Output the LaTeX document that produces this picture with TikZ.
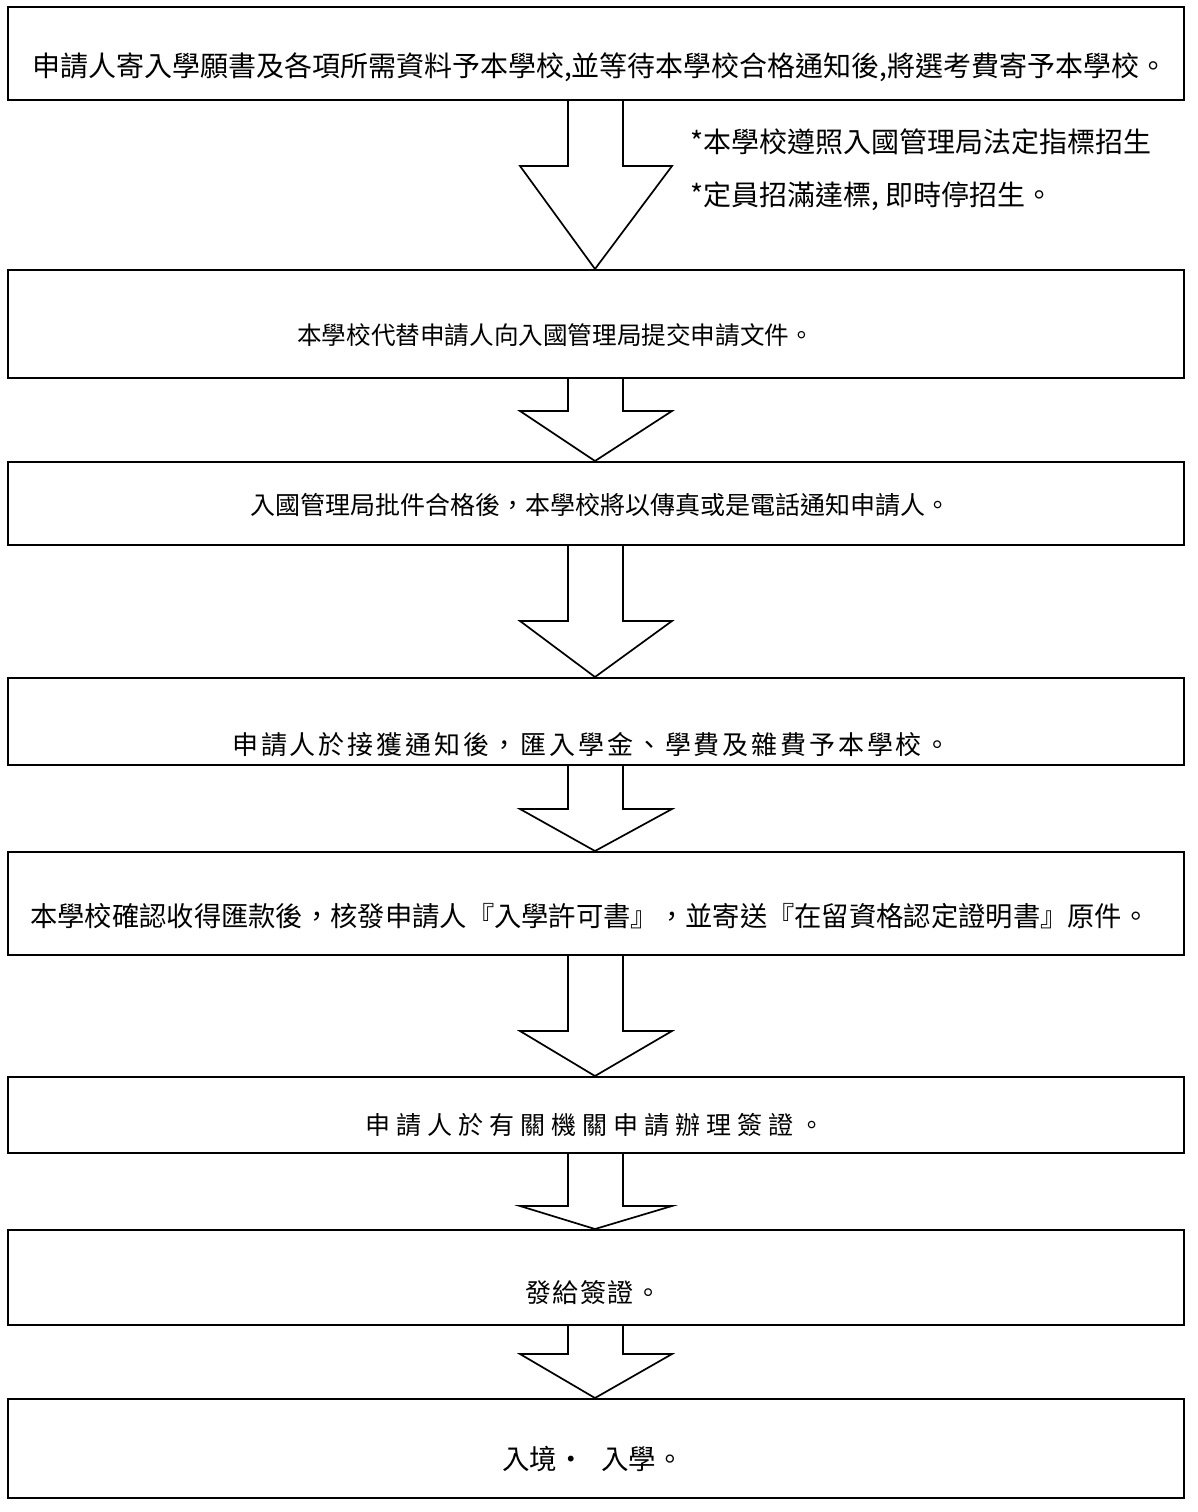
\documentclass[tikz,border=0pt]{standalone}
\usepackage{fontspec}
\setmainfont{Noto Sans CJK TC}
\usetikzlibrary{calc}
\newcommand\fs[1]{\fontsize{#1}{#1}\selectfont}
\newcommand\fsl[2]{\fontsize{#1}{#1}\selectfont\addfontfeatures{LetterSpace=#2}}
\newcommand\blockarr[3]{%
  \draw[arr] let \p1=(#1.south), \p2=(#2.north) in
    (\x1-28pt,\y1) -- (\x1-28pt,\y1-#3pt) -- (\x1-76pt,\y1-#3pt) -- (\x2-1pt,\y2)
    -- (\x1+76pt,\y1-#3pt) -- (\x1+27pt,\y1-#3pt) -- (\x1+27pt,\y1);}
\begin{document}
\begin{tikzpicture}[x=1pt,y=-1pt,
  box/.style={draw=black, line width=2pt, minimum width=1176pt, inner sep=0pt},
  arr/.style={draw=black, line width=1.7pt, line join=miter},
  txt/.style={inner sep=0pt, anchor=west},
  note/.style={inner sep=0pt, anchor=west, font=\fs{28}}]
\useasboundingbox[fill=white] (0,0) rectangle (1197,1512);
% boxes
\node[box, minimum height=93pt]  (b1) at (596,53.5) {};
\node[box, minimum height=108pt] (b2) at (596,324) {};
\node[box, minimum height=83pt]  (b3) at (596,503.5) {};
\node[box, minimum height=87pt]  (b4) at (596,721.5) {};
\node[box, minimum height=103pt] (b5) at (596,903.5) {};
\node[box, minimum height=76pt]  (b6) at (596,1115) {};
\node[box, minimum height=95pt]  (b7) at (596,1277.5) {};
\node[box, minimum height=99pt]  (b8) at (596,1448.5) {};
% texts
\node[txt, font=\fs{28}] (t1) at (32,67) {申請人寄入學願書及各項所需資料予本學校,並等待本學校合格通知後,將選考費寄予本學校。};
\node[txt, font=\fs{24.6}] (t2) at (297,335) {本學校代替申請人向入國管理局提交申請文件。};
\node[txt, font=\fs{25}] (t3) at (250,505) {入國管理局批件合格後，本學校將以傳真或是電話通知申請人。};
\node[txt, font=\fsl{26}{11}] (t4) at (232,745) {申請人於接獲通知後，匯入學金、學費及雜費予本學校。};
\node[txt, font=\fs{27.3}] (t5) at (30,916) {本學校確認收得匯款後，核發申請人『入學許可書』，並寄送『在留資格認定證明書』原件。};
\node[txt, font=\fsl{25}{24}] (t6) at (365,1125) {申請人於有關機關申請辦理簽證。};
\node[txt, font=\fsl{26}{6}] (t7) at (525,1293) {發給簽證。};
\node[txt, font=\fs{27.5}] (t8) at (502,1459) {入境·\hspace{0.6em}入學。};
% notes
\node[note] (n1) at (690,142) {*本學校遵照入國管理局法定指標招生};
\node[note] (n2) at (690,196) {*定員招滿達標, 即時停招生。};
% arrows
\blockarr{b1}{b2}{65}
\blockarr{b2}{b3}{32}
\blockarr{b3}{b4}{75}
\blockarr{b4}{b5}{43}
\blockarr{b5}{b6}{75}
\blockarr{b6}{b7}{52}
\blockarr{b7}{b8}{28}
\end{tikzpicture}
\end{document}
